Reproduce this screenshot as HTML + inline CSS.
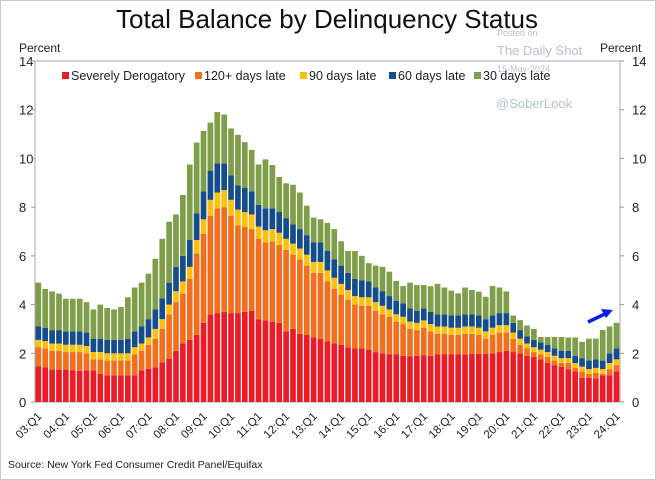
<!DOCTYPE html>
<html><head><meta charset="utf-8"><style>
body{margin:0;background:#fff;}
svg{display:block;font-family:"Liberation Sans",Arial,sans-serif;}
</style></head><body>
<svg id="chart" width="656" height="480" viewBox="0 0 656 480">
<rect x="0.5" y="0.5" width="655" height="479" fill="#fff" stroke="#c8c8c8"/>
<text x="327" y="28" font-size="26" text-anchor="middle" fill="#111">Total Balance by Delinquency Status</text>
<text x="19" y="52" font-size="12" fill="#222">Percent</text>
<g fill="#b6bfd3" font-size="11">
<text x="497" y="36" font-size="9">Posted on</text>
<text x="497" y="55" font-size="13">The Daily Shot</text>
<text x="497" y="72" font-size="9">15-May-2024</text>
<text x="496" y="108" font-size="13">@SoberLook</text>
</g>
<text x="600" y="52" font-size="12" fill="#222">Percent</text>
<rect x="35" y="61" width="585" height="341" fill="none" stroke="#aaa"/>
<g id="bars"></g>
<g id="axes"></g>
<g id="legend"></g>
<path d="M588 322 L607 313" stroke="#1020e0" stroke-width="3.5"/>
<polygon points="613,310 601,309 606,318" fill="#1020e0"/>
<text x="8" y="468" font-size="10.5" fill="#222">Source: New York Fed Consumer Credit Panel/Equifax</text>
</svg>
<script>
const years=["03","04","05","06","07","08","09","10","11","12","13","14","15","16","17","18","19","20","21","22","23","24"];
const severe=[1.46,1.42,1.33,1.33,1.33,1.3,1.28,1.3,1.3,1.15,1.1,1.1,1.1,1.1,1.1,1.3,1.36,1.42,1.62,1.78,2.1,2.4,2.55,2.75,3.25,3.6,3.65,3.7,3.65,3.65,3.7,3.75,3.4,3.35,3.3,3.25,2.9,3.0,2.8,2.75,2.65,
2.6,2.5,2.4,2.35,2.25,2.2,2.2,2.15,2.05,2.0,1.95,1.95,1.9,1.88,1.9,1.92,1.9,1.95,1.95,1.95,1.95,1.95,1.97,1.97,1.97,2.0,2.05,2.1,
2.05,2.0,1.9,1.85,1.75,1.6,1.5,1.45,1.35,1.25,1.0,1.0,0.97,1.1,1.1,1.25];
const late120Top=[2.25,2.2,2.1,2.1,2.05,2.05,2.05,2.0,1.75,1.75,1.7,1.7,1.7,1.7,1.95,2.1,2.35,2.6,3.0,3.6,4.1,4.45,5.05,6.1,6.9,7.65,7.95,8.0,7.65,7.25,7.2,7.1,6.7,6.55,6.6,6.45,6.25,6.05,5.85,5.6,5.3,
5.3,4.95,4.65,4.4,4.2,4.0,3.95,3.95,3.75,3.6,3.5,3.3,3.2,3.0,2.95,3.05,2.9,2.8,2.8,2.75,2.75,2.8,2.8,2.75,2.6,2.75,2.85,2.85,
2.6,2.35,2.2,2.05,1.95,1.85,1.7,1.6,1.6,1.4,1.25,1.15,1.2,1.15,1.35,1.5,1.7];
const late90=[0.3,0.3,0.3,0.3,0.3,0.3,0.3,0.3,0.3,0.3,0.3,0.3,0.3,0.3,0.3,0.3,0.3,0.4,0.4,0.4,0.45,0.5,0.5,0.55,0.6,0.65,0.65,0.7,0.65,0.65,0.6,0.6,0.5,0.5,0.5,0.5,0.45,0.45,0.45,0.45,0.45,
0.45,0.45,0.45,0.45,0.4,0.35,0.35,0.35,0.35,0.35,0.3,0.3,0.3,0.3,0.3,0.3,0.3,0.3,0.3,0.3,0.3,0.3,0.3,0.3,0.3,0.3,0.3,0.3,
0.25,0.25,0.2,0.2,0.2,0.2,0.2,0.2,0.2,0.2,0.2,0.2,0.2,0.2,0.25,0.25,0.25];
const late60=[0.55,0.55,0.55,0.55,0.55,0.55,0.55,0.55,0.55,0.55,0.55,0.55,0.55,0.6,0.65,0.7,0.75,0.8,0.85,0.9,1.0,1.05,1.1,1.1,1.15,1.2,1.2,1.1,1.0,1.0,1.0,0.95,0.9,0.9,0.85,0.85,0.85,0.8,0.8,0.8,0.8,
0.8,0.8,0.75,0.75,0.7,0.7,0.7,0.65,0.6,0.6,0.55,0.55,0.55,0.55,0.5,0.5,0.5,0.5,0.5,0.5,0.5,0.5,0.5,0.5,0.5,0.5,0.5,0.5,
0.4,0.35,0.3,0.3,0.3,0.3,0.3,0.3,0.3,0.3,0.35,0.35,0.35,0.35,0.4,0.45,0.45];
const totalTop=[4.9,4.64,4.54,4.45,4.24,4.24,4.24,4.1,3.8,4.0,3.86,3.8,3.9,4.3,4.7,4.9,5.27,5.88,6.7,7.4,7.7,8.5,9.75,10.65,11.13,11.47,11.9,11.8,11.23,10.97,10.67,10.35,9.75,9.96,9.73,9.24,8.98,8.92,8.6,8.06,7.57,
7.5,7.35,7.1,6.6,6.2,6.2,6.0,5.7,5.6,5.55,5.35,4.97,4.76,4.9,4.8,4.8,4.75,4.85,4.7,4.57,4.46,4.7,4.6,4.53,4.32,4.76,4.7,4.54,
3.55,3.36,3.14,3.0,2.67,2.67,2.67,2.67,2.65,2.65,2.47,2.6,2.6,2.96,3.1,3.25];
const seriesNames=["Severely Derogatory","120+ days late","90 days late","60 days late","30 days late"];
const seriesColors=["#ea1c28","#f07020","#fcc010","#154c8a","#7f9e4a"];
const yTicks=[0,2,4,6,8,10,12,14];

const NS="http://www.w3.org/2000/svg";
const X0=35,X1=620,Y0=402,Y1=61,YMAX=14;
const n=severe.length, bw=(X1-X0)/n;
function xPos(i){return X0+i*bw;}
function yPos(v){return Y0-(v/YMAX)*(Y0-Y1);}
function mk(tag,attrs,parent){const e=document.createElementNS(NS,tag);for(const k in attrs)e.setAttribute(k,attrs[k]);parent.appendChild(e);return e;}
const bars=document.getElementById('bars');
for(let i=0;i<n;i++){
  const l0=0,l1=severe[i],l2=late120Top[i],l3=l2+late90[i],l4=l3+late60[i],l5=Math.max(totalTop[i],l4);
  const levels=[l0,l1,l2,l3,l4,l5];
  for(let s=0;s<5;s++){
    const r=mk('rect',{x:xPos(i)+0.5,y:yPos(levels[s+1]),width:bw-1.2,height:Math.max(0,yPos(levels[s])-yPos(levels[s+1])),fill:seriesColors[s]},bars);
    
    
  }
}
const axes=document.getElementById('axes');
yTicks.forEach(t=>{
  const y=yPos(t);
  const a=mk('text',{x:19,y:y+5,'font-size':13,fill:'#222'},axes);a.textContent=t;
  
  
  const b=mk('text',{x:632,y:y+5,'font-size':13,fill:'#222'},axes);b.textContent=t;
  
  
  mk('line',{x1:X0-4,x2:X0,y1:y,y2:y,stroke:'#999'},axes);
  mk('line',{x1:X1,x2:X1+4,y1:y,y2:y,stroke:'#999'},axes);
});
years.forEach((yr,k)=>{
  const i=k*4; if(i>=n)return;
  const cx=xPos(i)+bw/2+4, cy=417;
  const t=mk('text',{x:cx,y:cy,'font-size':11.5,fill:'#222','text-anchor':'end',transform:`rotate(-45 ${cx} ${cy})`},axes);
  t.textContent=yr+":Q1";
  
  
});
const legend=document.getElementById('legend');
const lx=[62,195,300,389,474];
seriesNames.forEach((nm,s)=>{
  const r=mk('rect',{x:lx[s],y:72,width:7,height:7,fill:seriesColors[s]},legend);
  
  
  const t=mk('text',{x:lx[s]+9,y:80,'font-size':12.5,fill:'#222'},legend);
  t.textContent=nm;
  
  
});
</script>
</body></html>
